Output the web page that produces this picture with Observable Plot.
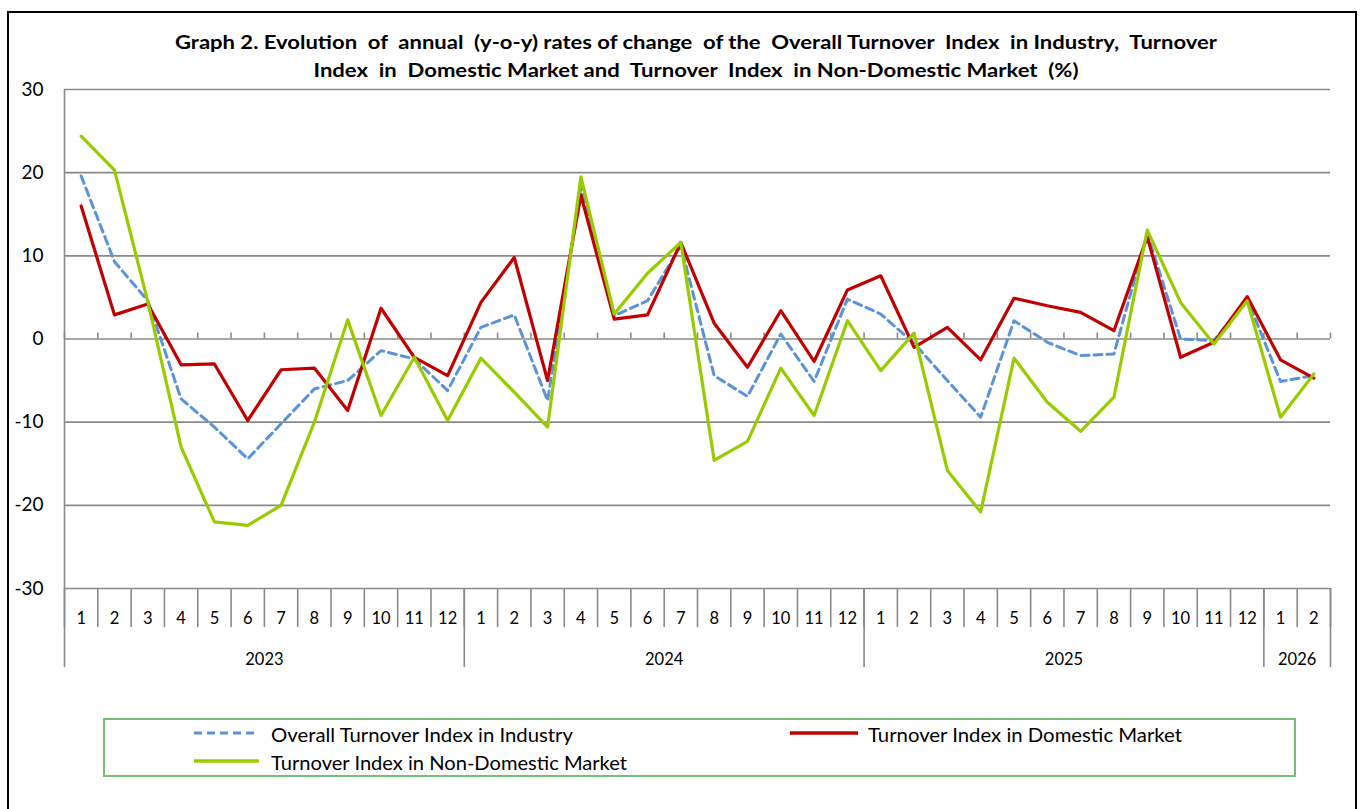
<!DOCTYPE html>
<html><head><meta charset="utf-8">
<script src="https://cdn.jsdelivr.net/npm/d3@7"></script>
<script src="https://cdn.jsdelivr.net/npm/@observablehq/plot@0.6"></script>
<style>
html,body{margin:0;padding:0;background:#fff;}
body{width:1363px;height:809px;overflow:hidden;position:relative;font-family:Lato,"Noto Sans",sans-serif;color:#000;}
#frame{position:absolute;left:7px;top:11px;width:1350px;height:820px;border:2px solid #000;box-sizing:border-box;}
.tline{position:absolute;white-space:pre;font-weight:bold;font-size:19px;line-height:1.2;transform-origin:50% 50%;}
#chart{position:absolute;left:0;top:80px;}
#legend{position:absolute;left:103px;top:718px;width:1193px;height:59px;border:2px solid #74bf78;box-sizing:border-box;}
.ltext{position:absolute;white-space:pre;font-size:19px;line-height:1.2;transform-origin:0 50%;}
.lsw{position:absolute;}
</style></head><body>
<div id="frame"></div>
<div class="tline" id="t1">Graph 2. Evolution  of  annual  (y-o-y) rates of change  of the  Overall Turnover  Index  in Industry,  Turnover</div>
<div class="tline" id="t2">Index  in  Domestic Market and  Turnover  Index  in Non-Domestic Market  (%)</div>
<div id="chart"></div>
<div id="legend"></div>
<svg class="lsw" style="left:190px;top:727px" width="75" height="12"><line x1="4" x2="69" y1="6" y2="6" stroke="#5B93D8" stroke-width="3" stroke-dasharray="8,5"/></svg>
<svg class="lsw" style="left:786px;top:727px" width="76" height="12"><line x1="4" x2="72" y1="6" y2="6" stroke="#C00000" stroke-width="3.5"/></svg>
<svg class="lsw" style="left:190px;top:755px" width="75" height="12"><line x1="4" x2="69" y1="6" y2="6" stroke="#99CC00" stroke-width="3.5"/></svg>
<div class="ltext" id="l1">Overall Turnover Index in Industry</div>
<div class="ltext" id="l2">Turnover Index in Domestic Market</div>
<div class="ltext" id="l3">Turnover Index in Non-Domestic Market</div>
<script>
// ---- data ----
const monthLabels = ["1","2","3","4","5","6","7","8","9","10","11","12",
  "1","2","3","4","5","6","7","8","9","10","11","12",
  "1","2","3","4","5","6","7","8","9","10","11","12",
  "1","2"];
const yearLabels = ["2023","2024","2025","2026"];
const yearMonths = [12, 12, 12, 2];
const yTicks = [-30, -20, -10, 0, 10, 20, 30];

const overall = [19.6, 9.3, 4.6, -7.2, -10.6, -14.4, -10.2, -6.0, -5.0, -1.4, -2.4, -6.2,
  1.4, 2.9, -7.4, 18.2, 2.8, 4.6, 11.2, -4.4, -6.9, 0.6, -5.1, 4.8,
  3.0, -0.5, -5.0, -9.4, 2.2, -0.4, -2.0, -1.8, 12.7, 0.0, -0.2, 4.8,
  -5.1, -4.4];
const domestic = [16.0, 2.9, 4.2, -3.1, -3.0, -9.8, -3.7, -3.5, -8.6, 3.7, -2.2, -4.4,
  4.4, 9.8, -5.0, 17.3, 2.4, 2.9, 11.6, 1.9, -3.4, 3.4, -2.7, 5.9,
  7.6, -1.0, 1.4, -2.5, 4.9, 4.0, 3.2, 1.0, 12.3, -2.2, -0.4, 5.1,
  -2.5, -4.7];
const nonDomestic = [24.4, 20.3, 4.5, -13.0, -22.0, -22.4, -20.0, -10.0, 2.3, -9.2, -2.2, -9.8,
  -2.3, -6.4, -10.6, 19.5, 3.0, 7.9, 11.6, -14.6, -12.3, -3.5, -9.2, 2.2,
  -3.8, 0.7, -15.8, -20.8, -2.3, -7.6, -11.1, -7.0, 13.1, 4.4, -0.6, 4.6,
  -9.4, -4.2];

// ---- derived ----
const n = monthLabels.length;
const idx = d3.range(n);
const boundaries = d3.range(n + 1).map(i => i - 0.5);
const cum = [0, ...d3.cumsum(yearMonths)];
const yearBoundaries = cum.map(c => c - 0.5);
const yearCenters = yearMonths.map((m, i) => cum[i] + m / 2 - 0.5);
const gridColor = "#8a8a8a";

const chart = Plot.plot({
  width: 1363, height: 600,
  marginLeft: 64, marginRight: 33, marginTop: 9, marginBottom: 92,
  style: {fontFamily: "Lato, 'Noto Sans', sans-serif", background: "transparent", overflow: "visible", color: "#000"},
  x: {type: "linear", domain: [-0.5, n - 0.5]},
  y: {domain: [-30, 30]},
  marks: [
    Plot.ruleY(yTicks, {y: d => d, stroke: gridColor, strokeWidth: 1.6}),
    Plot.ruleX([-0.5], {y1: -30, y2: 30, stroke: gridColor, strokeWidth: 1.6}),
    Plot.axisY(yTicks, {tickSize: 0, tickPadding: 21, fontSize: 19, tickFormat: d => String(d), label: null}),
    Plot.axisX(boundaries, {tickSize: 39, tickFormat: () => "", stroke: gridColor, strokeWidth: 1.6, label: null}),
    Plot.axisX(yearBoundaries, {tickSize: 79, tickFormat: () => "", stroke: gridColor, strokeWidth: 1.6, label: null}),
    Plot.axisX(idx, {tickSize: 0, tickPadding: 24, fontSize: 16.5, tickFormat: d => monthLabels[d], label: null}),
    Plot.axisX(yearCenters, {tickSize: 0, tickPadding: 65, fontSize: 16.5, tickFormat: d => yearLabels[yearCenters.indexOf(d)], label: null}),
    Plot.ruleX(boundaries, {x: d => d, y1: 0, y2: 0, insetTop: -6, stroke: gridColor, strokeWidth: 1.6}),
    Plot.lineY(overall, {x: (d, i) => i, y: d => d, stroke: "#5B93D8", strokeWidth: 3, strokeDasharray: "8,5"}),
    Plot.lineY(domestic, {x: (d, i) => i, y: d => d, stroke: "#C00000", strokeWidth: 3.2}),
    Plot.lineY(nonDomestic, {x: (d, i) => i, y: d => d, stroke: "#99CC00", strokeWidth: 3.2})
  ]
});
document.getElementById("chart").appendChild(chart);

// ---- fit text widths to the reference layout ----
function fitCenter(id, cx, baseline, target) {
  const el = document.getElementById(id);
  const w = el.getBoundingClientRect().width;
  const fs = parseFloat(getComputedStyle(el).fontSize);
  el.style.left = cx + "px";
  el.style.top = (baseline - 0.987 * fs - 0.0 * fs) + "px";
  el.style.transform = `translateX(-50%) scaleX(${target / w})`;
}
function fitLeft(id, x, baseline, target) {
  const el = document.getElementById(id);
  const w = el.getBoundingClientRect().width;
  const fs = parseFloat(getComputedStyle(el).fontSize);
  el.style.left = x + "px";
  el.style.top = (baseline - 0.987 * fs) + "px";
  el.style.transform = `scaleX(${target / w})`;
}
fitCenter("t1", 696, 49.5, 1042);
fitCenter("t2", 695.5, 78, 765);
fitLeft("l1", 271, 743, 302);
fitLeft("l2", 868, 743, 314);
fitLeft("l3", 271, 771, 356);
</script>
</body></html>
